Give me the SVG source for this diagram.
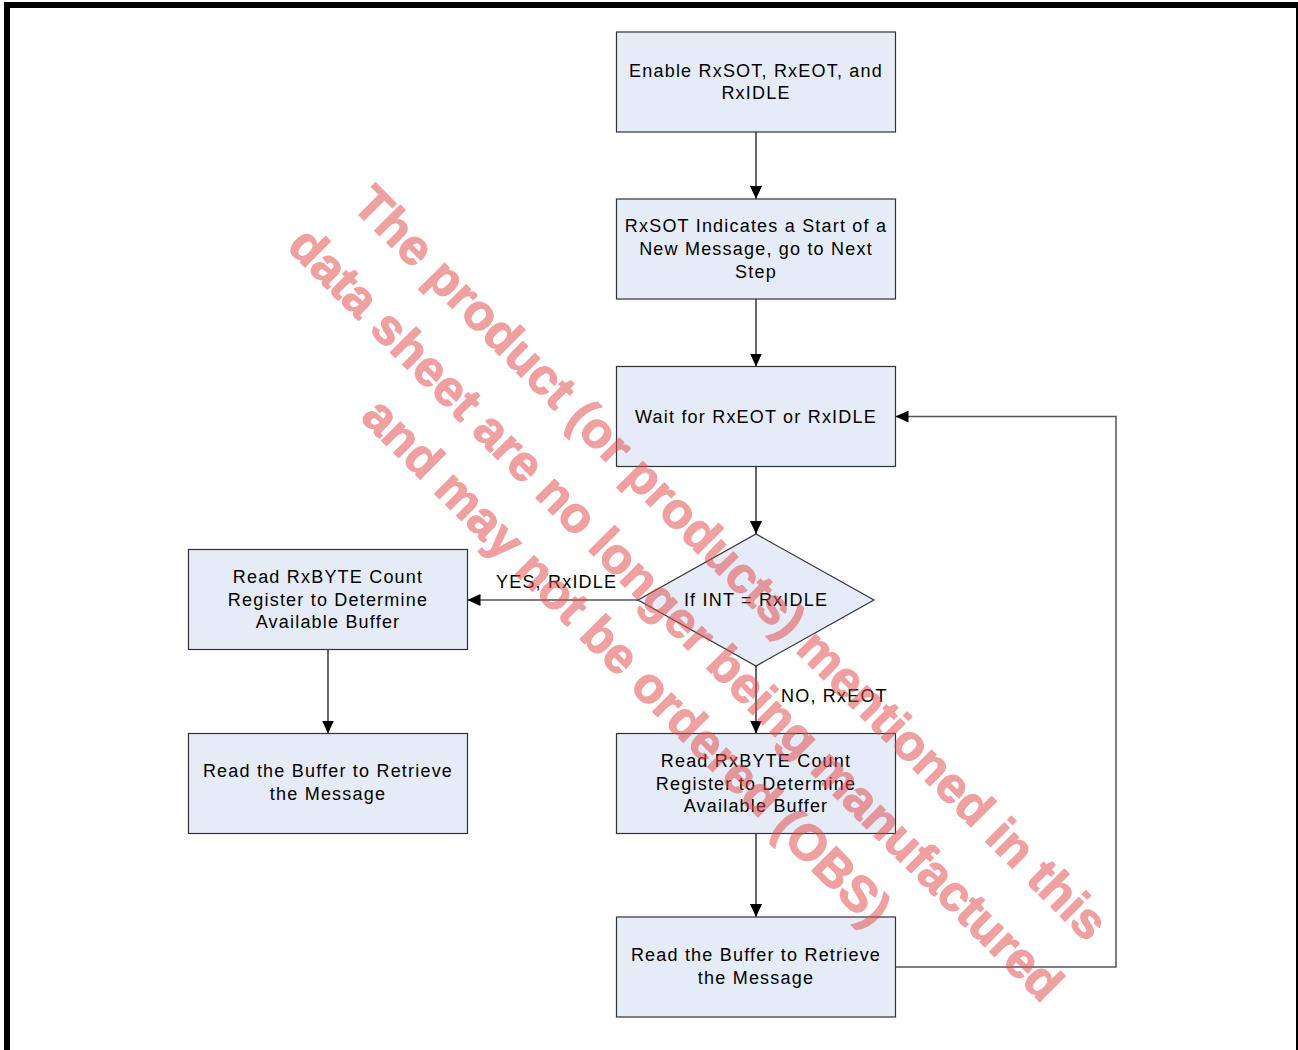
<svg xmlns="http://www.w3.org/2000/svg" width="1298" height="1050" viewBox="0 0 1298 1050">
<style>
.box{fill:#E6ECF7;stroke:#333;stroke-width:1.2}
.t{font-family:"Liberation Sans",Arial,sans-serif;font-size:18px;letter-spacing:1.2px;fill:#000;text-anchor:middle}
.lbl{font-family:"Liberation Sans",Arial,sans-serif;font-size:18px;letter-spacing:1.2px;fill:#000}
.c{fill:none;stroke:#000;stroke-width:1.2}
.loop{fill:none;stroke:#555;stroke-width:1.5}
.wm{font-family:"Liberation Sans",Arial,sans-serif;font-size:50px;font-weight:bold;fill:#E24A4A;stroke:#E24A4A;stroke-width:1.3;stroke-linejoin:round;text-anchor:middle}
</style>
<defs>
<marker id="ah" markerUnits="userSpaceOnUse" markerWidth="13" markerHeight="12" refX="13" refY="6" orient="auto">
<path d="M0,0 L13,6 L0,12 z" fill="#000"/>
</marker>
</defs>
<rect x="0" y="0" width="1298" height="1050" fill="#fff"/>
<rect x="7" y="5" width="1292" height="1100" fill="none" stroke="#000" stroke-width="6"/>

<g id="connectors">
<line class="c" x1="756" y1="132" x2="756" y2="199" marker-end="url(#ah)"/>
<line class="c" x1="756" y1="299" x2="756" y2="366.5" marker-end="url(#ah)"/>
<line class="c" x1="756" y1="466.5" x2="756" y2="534" marker-end="url(#ah)"/>
<line class="c" x1="756" y1="666" x2="756" y2="733.5" marker-end="url(#ah)"/>
<line class="c" x1="756" y1="833.5" x2="756" y2="917" marker-end="url(#ah)"/>
<line class="c" x1="638" y1="600" x2="467.5" y2="600" marker-end="url(#ah)"/>
<line class="c" x1="328" y1="649.5" x2="328" y2="733.5" marker-end="url(#ah)"/>
<polyline class="loop" points="895.5,967 1116,967 1116,416.5 895.5,416.5" marker-end="url(#ah)"/>
<text class="lbl" x="496" y="588">YES, RxIDLE</text>
<text class="lbl" x="781" y="701.5">NO, RxEOT</text>
</g>

<g id="n1">
<rect class="box" x="616.5" y="32" width="279" height="100"/>
<text class="t" x="756" y="76.5">Enable RxSOT, RxEOT, and</text>
<text class="t" x="756" y="99">RxIDLE</text>
</g>
<g id="n2">
<rect class="box" x="616.5" y="199" width="279" height="100"/>
<text class="t" x="756" y="232">RxSOT Indicates a Start of a</text>
<text class="t" x="756" y="255">New Message, go to Next</text>
<text class="t" x="756" y="277.5">Step</text>
</g>
<g id="n3">
<rect class="box" x="616.5" y="366.5" width="279" height="100"/>
<text class="t" x="756" y="423">Wait for RxEOT or RxIDLE</text>
</g>
<g id="n4">
<polygon class="box" points="756,534 874,600 756,666 638,600"/>
<text class="t" x="756" y="606">If INT = RxIDLE</text>
</g>
<g id="n5">
<rect class="box" x="188.5" y="549.5" width="279" height="100"/>
<text class="t" x="328" y="583">Read RxBYTE Count</text>
<text class="t" x="328" y="605.5">Register to Determine</text>
<text class="t" x="328" y="628">Available Buffer</text>
</g>
<g id="n6">
<rect class="box" x="188.5" y="733.5" width="279" height="100"/>
<text class="t" x="328" y="777">Read the Buffer to Retrieve</text>
<text class="t" x="328" y="800">the Message</text>
</g>
<g id="n7">
<rect class="box" x="616.5" y="733.5" width="279" height="100"/>
<text class="t" x="756" y="767">Read RxBYTE Count</text>
<text class="t" x="756" y="789.5">Register to Determine</text>
<text class="t" x="756" y="812">Available Buffer</text>
</g>
<g id="n8">
<rect class="box" x="616.5" y="917" width="279" height="100"/>
<text class="t" x="756" y="961">Read the Buffer to Retrieve</text>
<text class="t" x="756" y="984">the Message</text>
</g>

<g id="watermark" opacity="0.52">
<text class="wm" transform="translate(719,575) rotate(45)">The product (or products) mentioned in this</text>
<text class="wm" transform="translate(664,626) rotate(45)">data sheet are no longer being manufactured</text>
<text class="wm" transform="translate(615,674) rotate(45)">and may not be ordered (OBS)</text>
</g>
</svg>
